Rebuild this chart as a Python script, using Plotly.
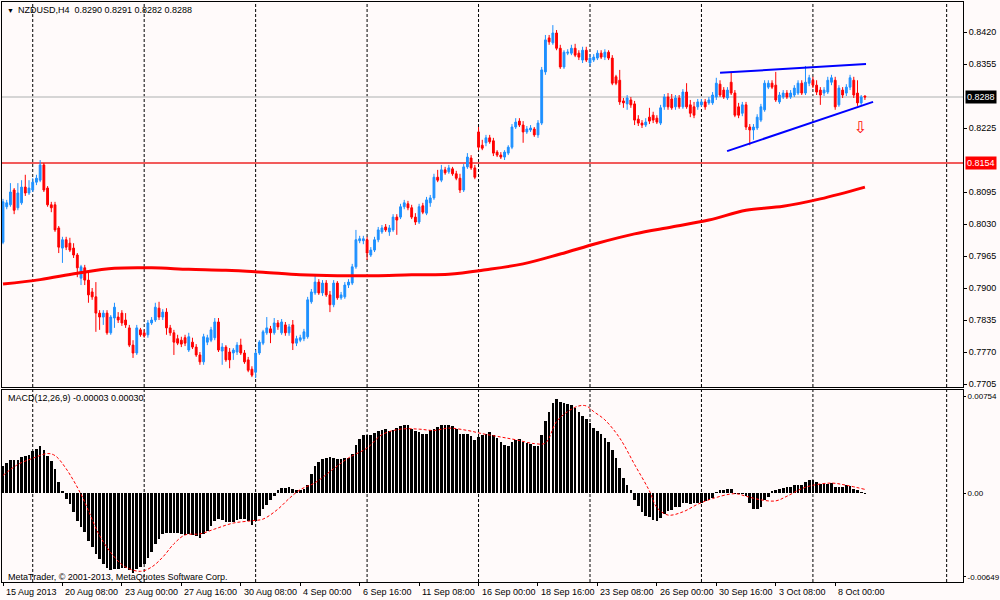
import plotly.graph_objects as go

# ---------------- data ----------------
open_ = [
    .7993, .8065, .8069, .8099, .8063, .8073, .8105, .8093, .8099, .8115,
    .8119, .8150, .8103, .8069, .8069, .8022, .7981, .7998, .7991, .7981,
    .7967, .7920, .7941, .7916, .7892, .7882, .7849, .7841, .7849, .7809,
    .7839, .7841, .7849, .7835, .7819, .7784, .7768, .7815, .7809, .7805,
    .7829, .7835, .7859, .7841, .7851, .7819, .7809, .7797, .7794, .7799,
    .7774, .7790, .7780, .7764, .7750, .7790, .7794, .7799, .7831, .7772,
    .7780, .7770, .7768, .7770, .7784, .7768, .7754, .7735, .7729, .7768,
    .7788, .7809, .7817, .7809, .7829, .7809, .7825, .7809, .7825, .7788,
    .7794, .7797, .7801, .7872, .7890, .7912, .7890, .7910, .7886, .7866,
    .7910, .7880, .7882, .7906, .7910, .7943, .7996, .7996, .7998, .7967,
    .7977, .7998, .8014, .8024, .8014, .8018, .8044, .8044, .8065, .8071,
    .8063, .8044, .8034, .8067, .8052, .8073, .8083, .8125, .8119, .8140,
    .8136, .8142, .8132, .8123, .8099, .8146, .8164, .8144, .8217, .8190,
    .8195, .8205, .8199, .8176, .8170, .8166, .8174, .8186, .8227, .8239,
    .8231, .8217, .8221, .8223, .8211, .8235, .8339, .8408, .8398, .8418,
    .8387, .8349, .8377, .8377, .8387, .8377, .8363, .8383, .8357, .8363,
    .8367, .8377, .8369, .8379, .8367, .8329, .8322, .8280, .8274, .8282,
    .8274, .8243, .8235, .8231, .8247, .8251, .8245, .8235, .8268, .8288,
    .8284, .8268, .8286, .8268, .8298, .8272, .8268, .8268, .8272, .8278,
    .8276, .8276, .8288, .8314, .8302, .8286, .8318, .8296, .8268, .8255,
    .8272, .8227, .8221, .8225, .8241, .8262, .8308, .8316, .8312, .8278,
    .8288, .8296, .8288, .8292, .8296, .8316, .8296, .8316, .8322, .8312,
    .8302, .8296, .8298, .8318, .8322, .8272, .8302, .8296, .8308, .8322,
    .8296, .8276, .8290,
]
high = [
    .8081, .8079, .8113, .8103, .8113, .8119, .8130, .8119, .8123, .8130,
    .8160, .8154, .8107, .8075, .8075, .8026, .8004, .8004, .8002, .7991,
    .7971, .7947, .7947, .7933, .7900, .7912, .7855, .7855, .7855, .7845,
    .7870, .7851, .7855, .7849, .7825, .7794, .7825, .7819, .7815, .7835,
    .7841, .7870, .7872, .7857, .7859, .7825, .7815, .7805, .7801, .7805,
    .7809, .7799, .7786, .7770, .7807, .7805, .7821, .7839, .7839, .7788,
    .7784, .7778, .7778, .7790, .7797, .7774, .7760, .7741, .7774, .7794,
    .7815, .7841, .7823, .7839, .7835, .7837, .7831, .7827, .7835, .7803,
    .7805, .7817, .7882, .7898, .7926, .7918, .7916, .7916, .7894, .7916,
    .7914, .7892, .7912, .7918, .7949, .8018, .8006, .8006, .8004, .7983,
    .8004, .8024, .8028, .8030, .8028, .8050, .8050, .8071, .8079, .8077,
    .8069, .8052, .8071, .8073, .8085, .8089, .8132, .8140, .8150, .8146,
    .8150, .8146, .8138, .8132, .8152, .8174, .8170, .8150, .8227, .8201,
    .8211, .8211, .8205, .8180, .8176, .8180, .8190, .8233, .8245, .8245,
    .8239, .8229, .8231, .8227, .8241, .8349, .8414, .8414, .8434, .8424,
    .8394, .8383, .8385, .8394, .8396, .8383, .8390, .8390, .8375, .8375,
    .8383, .8383, .8385, .8383, .8373, .8333, .8343, .8286, .8292, .8288,
    .8280, .8251, .8241, .8245, .8266, .8258, .8251, .8272, .8294, .8296,
    .8294, .8292, .8292, .8304, .8316, .8282, .8278, .8284, .8284, .8284,
    .8288, .8298, .8327, .8322, .8308, .8308, .8339, .8302, .8276, .8278,
    .8278, .8233, .8233, .8253, .8274, .8322, .8322, .8322, .8339, .8298,
    .8302, .8302, .8302, .8312, .8322, .8322, .8351, .8333, .8329, .8322,
    .8308, .8308, .8329, .8333, .8329, .8312, .8308, .8314, .8333, .8329,
    .8322, .8292, .8291,
]
low = [
    .7989, .8060, .8065, .8050, .8058, .8069, .8087, .8089, .8095, .8109,
    .8115, .8095, .8065, .8054, .8014, .7971, .7951, .7977, .7973, .7961,
    .7922, .7906, .7906, .7870, .7876, .7811, .7815, .7825, .7805, .7805,
    .7819, .7829, .7823, .7819, .7780, .7758, .7764, .7801, .7799, .7799,
    .7825, .7831, .7835, .7835, .7805, .7803, .7764, .7784, .7780, .7782,
    .7770, .7776, .7760, .7744, .7744, .7784, .7790, .7794, .7770, .7744,
    .7750, .7737, .7754, .7764, .7764, .7746, .7729, .7719, .7717, .7764,
    .7784, .7805, .7788, .7805, .7815, .7805, .7803, .7803, .7774, .7782,
    .7790, .7792, .7797, .7868, .7886, .7886, .7884, .7882, .7851, .7861,
    .7876, .7876, .7878, .7900, .7906, .7939, .7991, .7989, .7957, .7963,
    .7973, .7993, .8010, .8014, .8006, .8014, .8008, .8040, .8060, .8058,
    .8040, .8028, .8030, .8050, .8048, .8065, .8079, .8115, .8115, .8130,
    .8132, .8128, .8119, .8093, .8095, .8142, .8140, .8121, .8180, .8180,
    .8188, .8193, .8168, .8166, .8162, .8160, .8170, .8182, .8223, .8227,
    .8195, .8213, .8217, .8207, .8205, .8231, .8333, .8394, .8394, .8383,
    .8345, .8345, .8373, .8373, .8369, .8363, .8357, .8359, .8351, .8359,
    .8363, .8365, .8363, .8363, .8312, .8312, .8272, .8266, .8262, .8266,
    .8231, .8229, .8225, .8227, .8233, .8235, .8233, .8231, .8262, .8262,
    .8262, .8262, .8264, .8264, .8264, .8247, .8245, .8262, .8268, .8262,
    .8272, .8272, .8282, .8288, .8284, .8282, .8292, .8247, .8245, .8249,
    .8221, .8190, .8201, .8221, .8237, .8258, .8304, .8304, .8278, .8274,
    .8284, .8284, .8284, .8288, .8292, .8292, .8292, .8310, .8306, .8292,
    .8272, .8290, .8294, .8312, .8262, .8268, .8286, .8290, .8302, .8286,
    .8270, .8272, .8282,
]
close = [
    .8075, .8073, .8095, .8058, .8093, .8105, .8093, .8103, .8115, .8123,
    .8150, .8099, .8069, .8063, .8018, .7983, .7998, .7983, .7977, .7967,
    .7941, .7943, .7916, .7886, .7882, .7849, .7841, .7849, .7809, .7841,
    .7861, .7835, .7829, .7825, .7784, .7768, .7819, .7805, .7803, .7829,
    .7835, .7861, .7841, .7851, .7819, .7809, .7790, .7788, .7786, .7788,
    .7801, .7780, .7764, .7750, .7801, .7799, .7815, .7831, .7774, .7780,
    .7754, .7754, .7774, .7784, .7768, .7750, .7733, .7723, .7768, .7790,
    .7811, .7819, .7809, .7829, .7821, .7831, .7809, .7821, .7788, .7797,
    .7799, .7811, .7876, .7892, .7912, .7890, .7910, .7886, .7866, .7910,
    .7880, .7886, .7906, .7912, .7943, .7998, .8000, .8000, .7971, .7977,
    .7998, .8018, .8022, .8018, .8022, .8044, .8038, .8065, .8073, .8063,
    .8044, .8034, .8065, .8054, .8079, .8083, .8125, .8119, .8140, .8134,
    .8144, .8132, .8123, .8099, .8146, .8166, .8144, .8125, .8186, .8184,
    .8205, .8197, .8174, .8170, .8166, .8176, .8186, .8227, .8237, .8231,
    .8217, .8223, .8225, .8211, .8235, .8343, .8404, .8400, .8418, .8387,
    .8349, .8379, .8379, .8387, .8373, .8369, .8383, .8363, .8367, .8369,
    .8377, .8369, .8379, .8367, .8316, .8316, .8278, .8276, .8286, .8272,
    .8241, .8235, .8231, .8237, .8239, .8241, .8237, .8266, .8288, .8268,
    .8266, .8286, .8268, .8298, .8268, .8255, .8251, .8278, .8278, .8268,
    .8282, .8292, .8316, .8292, .8288, .8302, .8296, .8251, .8251, .8272,
    .8227, .8221, .8227, .8247, .8268, .8316, .8316, .8308, .8282, .8292,
    .8296, .8288, .8296, .8306, .8316, .8296, .8318, .8327, .8312, .8298,
    .8292, .8302, .8322, .8327, .8268, .8306, .8292, .8308, .8327, .8292,
    .8276, .8288, .8288,
]

# moving average (red thick line), sampled at bar indices
ma_bars = [0, 10, 20, 30, 40, 50, 60, 70, 80, 90, 100, 110, 120, 130, 140,
           150, 160, 170, 180, 190, 200, 210, 220, 232]
ma_vals = [.7908, .7917, .7930, .7940, .7941, .7938, .7936, .7932, .7927, .7925,
           .7925, .7927, .7928, .7937, .7949, .7969, .7991, .8010, .8024, .8038,
           .8058, .8066, .8081, .8105]

# MACD(12,26,9) histogram and signal line
macd_hist = [
    .00215, .00236, .00261, .00256, .00256, .00282, .00287, .00297, .00325, .00344,
    .00364, .00338, .00292, .00254, .00185, .00087, .00018, -.00041, -.00085, -.00144,
    -.00213, -.00264, -.00302, -.00371, -.00418, -.00469, -.00508, -.00546, -.00579, -.00598,
    -.00590, -.00585, -.00579, -.00579, -.00598, -.00615, -.00585, -.00572, -.00546, -.00500,
    -.00456, -.00397, -.00354, -.00315, -.00308, -.00308, -.00310, -.00310, -.00318, -.00323,
    -.00318, -.00320, -.00333, -.00349, -.00318, -.00290, -.00251, -.00213, -.00200, -.00208,
    -.00221, -.00226, -.00221, -.00205, -.00200, -.00200, -.00213, -.00246, -.00213, -.00174,
    -.00123, -.00092, -.00051, -.00021, .00023, .00038, .00041, .00051, .00036, .00023,
    .00028, .00033, .00062, .00146, .00210, .00241, .00267, .00274, .00282, .00274,
    .00267, .00267, .00272, .00277, .00308, .00377, .00421, .00454, .00454, .00454,
    .00467, .00479, .00492, .00497, .00479, .00487, .00505, .00518, .00526, .00531,
    .00497, .00479, .00472, .00459, .00459, .00487, .00497, .00513, .00531, .00531,
    .00531, .00518, .00497, .00459, .00459, .00459, .00446, .00415, .00438, .00454,
    .00462, .00472, .00454, .00428, .00395, .00377, .00364, .00395, .00415, .00421,
    .00400, .00390, .00385, .00364, .00364, .00454, .00564, .00633, .00702, .00728,
    .00710, .00697, .00690, .00684, .00659, .00633, .00600, .00574, .00543, .00505,
    .00479, .00459, .00428, .00395, .00333, .00274, .00197, .00120, .00062, .00023,
    -.00051, -.00097, -.00149, -.00174, -.00187, -.00205, -.00213, -.00192, -.00162, -.00136,
    -.00131, -.00110, -.00108, -.00077, -.00077, -.00085, -.00077, -.00074, -.00074, -.00059,
    -.00051, -.00033, .00010, .00023, .00023, .00036, .00036, -.00008, -.00008, -.00003,
    -.00023, -.00074, -.00123, -.00123, -.00110, -.00051, -.00028, .00015, .00023, .00036,
    .00041, .00051, .00051, .00062, .00062, .00062, .00087, .00100, .00100, .00087,
    .00074, .00072, .00074, .00079, .00051, .00051, .00051, .00062, .00056, .00036,
    .00023, .00013, -.00003,
]
signal_bars = [0, 4, 8, 12, 14, 17, 21, 23, 26, 30, 33, 37, 40, 43, 46, 49, 53, 57,
               62, 67, 70, 74, 77, 80, 84, 89, 93, 98, 102, 107, 112, 116, 120, 125,
               129, 134, 138, 143, 146, 149, 152, 155, 157, 159, 162, 166, 170, 174,
               176, 179, 183, 187, 191, 197, 200, 204, 208, 211, 215, 218, 223, 227, 232]
signal_vals = [.00138, .00223, .00271, .00308, .00292, .00190, -.00008, -.00136, -.00328,
               -.00495, -.00572, -.00605, -.00572, -.00495, -.00392, -.00323, -.00315,
               -.00277, -.00231, -.00213, -.00200, -.00123, -.00041, .00028, .00082,
               .00190, .00274, .00351, .00454, .00497, .00497, .00487, .00505, .00487,
               .00462, .00436, .00415, .00385, .00390, .00556, .00633, .00677, .00677,
               .00633, .00569, .00428, .00223, .00018, -.00110, -.00169, -.00144,
               -.00085, -.00041, -.00003, -.00023, -.00051, -.00059, -.00023, .00036,
               .00062, .00079, .00062, .00030]

# axis ticks / labels
price_ticks = [.8420, .8355, .8225, .8095, .8030, .7965, .7900, .7835, .7770, .7705]
macd_ticks = [.00754, 0.0, -.00649]
macd_tick_text = ["0.00754", "0.00", "-0.00649"]
date_bars = [0, 16, 32, 48, 64, 80, 96, 112, 128, 144, 160, 176, 192, 208, 224]
date_labels = ["15 Aug 2013", "20 Aug 08:00", "23 Aug 00:00", "27 Aug 16:00",
               "30 Aug 08:00", "4 Sep 00:00", "6 Sep 16:00", "11 Sep 08:00",
               "16 Sep 00:00", "18 Sep 16:00", "23 Sep 08:00", "26 Sep 00:00",
               "30 Sep 16:00", "3 Oct 08:00", "8 Oct 00:00"]
grid_bars = [8, 38, 68, 98, 128, 158, 188, 218, 254]

symbol_title = "NZDUSD,H4  0.8290 0.8291 0.8282 0.8288"
macd_title = "MACD(12,26,9) -0.00003 0.00030"
copyright_text = "MetaTrader, © 2001-2013, MetaQuotes Software Corp."
bid_price = 0.8288
hline_price = 0.8154
upper_trend_bars = [193.0, 232.3]
upper_trend_prices = [0.8337, 0.8355]
lower_trend_bars = [194.9, 234.2]
lower_trend_prices = [0.8178, 0.8278]
arrow_bar = [230.7]
arrow_price = [0.8223]

# ---------------- figure ----------------
FONT = "Liberation Sans"
BG = "#FFFAFA"
bars = list(range(len(close)))

fig = go.Figure()

fig.add_trace(go.Candlestick(
    x=bars, open=open_, high=high, low=low, close=close,
    increasing=dict(line=dict(color="#1E90FF", width=1), fillcolor="#1E90FF"),
    decreasing=dict(line=dict(color="#FF0000", width=1), fillcolor="#FF0000"),
    whiskerwidth=0, xaxis="x", yaxis="y", hoverinfo="skip", showlegend=False))

fig.add_trace(go.Scatter(x=ma_bars, y=ma_vals, mode="lines",
                         line=dict(color="#FF0000", width=3, shape="spline"),
                         xaxis="x", yaxis="y", hoverinfo="skip", showlegend=False))

fig.add_trace(go.Scatter(x=upper_trend_bars, y=upper_trend_prices, mode="lines",
                         line=dict(color="#0000FF", width=2),
                         xaxis="x", yaxis="y", hoverinfo="skip", showlegend=False))
fig.add_trace(go.Scatter(x=lower_trend_bars, y=lower_trend_prices, mode="lines",
                         line=dict(color="#0000FF", width=2),
                         xaxis="x", yaxis="y", hoverinfo="skip", showlegend=False))

fig.add_trace(go.Scatter(x=arrow_bar, y=arrow_price, mode="text", text=["⇩"],
                         textfont=dict(family="DejaVu Sans", size=16, color="#FF0000"),
                         xaxis="x", yaxis="y", hoverinfo="skip", showlegend=False))

fig.add_trace(go.Bar(x=bars, y=macd_hist, width=0.72,
                     marker=dict(color="#000000", line=dict(width=0)),
                     xaxis="x2", yaxis="y2", hoverinfo="skip", showlegend=False))

fig.add_trace(go.Scatter(x=signal_bars, y=signal_vals, mode="lines",
                         line=dict(color="#FF0000", width=1, dash="3px,2px", shape="spline"),
                         xaxis="x2", yaxis="y2", hoverinfo="skip", showlegend=False))

# geometry (pixels of the 1000x600 picture)
L, R, T, B = 2, 963, 2, 582
H = B - T
def py(px):
    return (B - px) / H
def pxx(px):
    return (px - L) / (R - L)

xr = [-0.27, 258.4]
axis_common = dict(showgrid=False, zeroline=False, showline=True, mirror=True,
                   linecolor="#000000", linewidth=1, automargin=False)

fig.update_layout(
    width=1000, height=600,
    margin=dict(l=L, r=1000 - R, t=T, b=600 - B, autoexpand=False),
    paper_bgcolor=BG, plot_bgcolor=BG,
    font=dict(family=FONT, size=9, color="#000000"),
    showlegend=False, bargap=0,
    xaxis=dict(domain=[0, 1], range=xr, anchor="y", showticklabels=False, ticks="",
               rangeslider=dict(visible=False), **axis_common),
    xaxis2=dict(domain=[0, 1], range=xr, anchor="y2", showticklabels=False,
                ticks="outside", ticklen=3, tickcolor="#000000",
                tickvals=date_bars, **axis_common),
    yaxis=dict(domain=[py(387), 1], range=[0.769891, 0.848094], side="right",
               tickvals=price_ticks, ticktext=[f"{v:.4f}" for v in price_ticks],
               ticks="outside", ticklen=3, tickcolor="#000000",
               tickfont=dict(family=FONT, size=9, color="#000000"), **axis_common),
    yaxis2=dict(domain=[0, py(390)], range=[-0.006878, 0.008005], side="right",
                tickvals=macd_ticks, ticktext=macd_tick_text,
                ticks="outside", ticklen=2, tickcolor="#000000",
                tickfont=dict(family=FONT, size=8, color="#000000"), **axis_common),
)

shapes = []
for gb in grid_bars:
    shapes.append(dict(type="line", xref="x", yref="paper", x0=gb, x1=gb, y0=0, y1=1,
                       line=dict(color="#000000", width=1, dash="3px,2px"), layer="below"))
shapes.append(dict(type="line", xref="paper", yref="y", x0=0, x1=1, y0=bid_price, y1=bid_price,
                   line=dict(color="#C8C8C8", width=1.5), layer="below"))
shapes.append(dict(type="line", xref="paper", yref="y", x0=0, x1=1, y0=hline_price, y1=hline_price,
                   line=dict(color="#F25A5A", width=2), layer="below"))
fig.update_layout(shapes=shapes)

ann = []
ann.append(dict(text="▼", xref="paper", yref="paper", x=pxx(5), y=py(10),
                xanchor="left", yanchor="middle", showarrow=False, font=dict(size=7)))
ann.append(dict(text=symbol_title, xref="paper", yref="paper", x=pxx(16), y=py(10),
                xanchor="left", yanchor="middle", showarrow=False, font=dict(size=9)))
ann.append(dict(text=macd_title, xref="paper", yref="paper", x=pxx(6), y=py(398),
                xanchor="left", yanchor="middle", showarrow=False, font=dict(size=9)))
ann.append(dict(text=copyright_text, xref="paper", yref="paper", x=pxx(6), y=py(577),
                xanchor="left", yanchor="middle", showarrow=False, font=dict(size=9)))
for b, lab in zip(date_bars, date_labels):
    ann.append(dict(text=lab, xref="x2", yref="paper", x=b, y=py(592), xshift=1,
                    xanchor="left", yanchor="middle", showarrow=False, font=dict(size=9)))
ann.append(dict(text=f"{bid_price:.4f}", xref="paper", yref="y", x=1, y=bid_price, xshift=2,
                xanchor="left", yanchor="middle", showarrow=False, bgcolor="#000000",
                borderpad=1, font=dict(size=9, color="#FFFFFF")))
ann.append(dict(text=f"{hline_price:.4f}", xref="paper", yref="y", x=1, y=hline_price, xshift=2,
                xanchor="left", yanchor="middle", showarrow=False, bgcolor="#FF0000",
                borderpad=1, font=dict(size=9, color="#FFFFFF")))
fig.update_layout(annotations=ann)

fig.write_html("out.html", include_plotlyjs=True, full_html=True,
               config={"displayModeBar": False, "staticPlot": True},
               post_script="document.body.style.margin='0';document.body.style.overflow='hidden';")
